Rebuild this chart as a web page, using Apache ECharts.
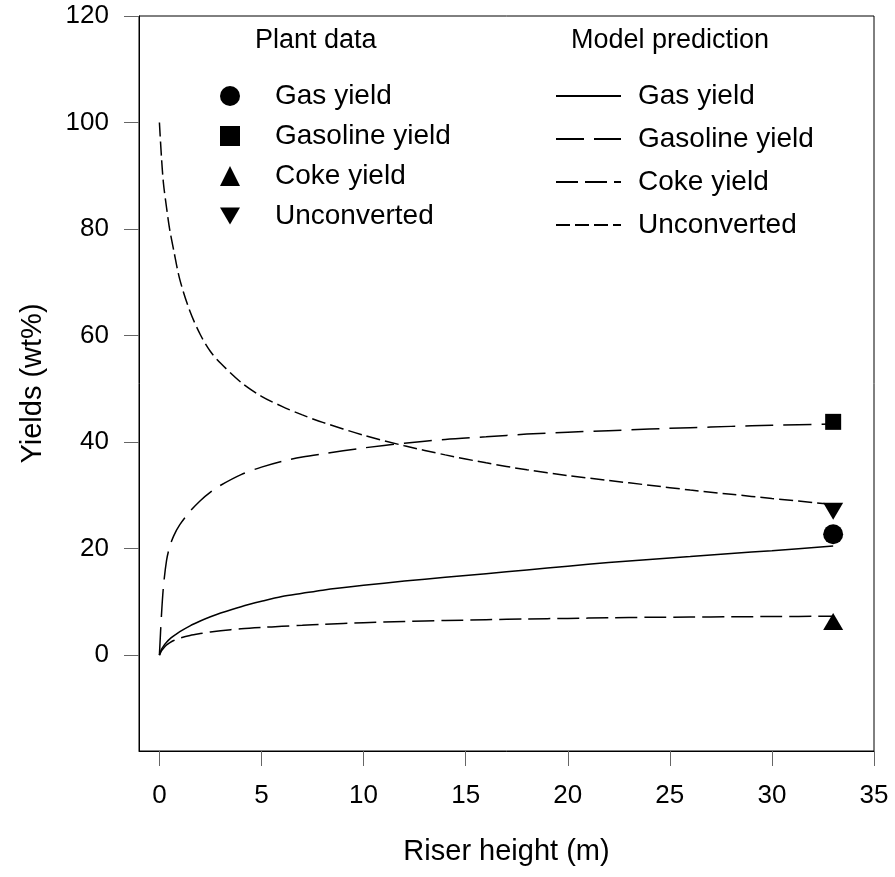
<!DOCTYPE html>
<html>
<head>
<meta charset="utf-8">
<script src="https://cdn.jsdelivr.net/npm/echarts@6/dist/echarts.min.js"></script>
<style>
  html, body { margin: 0; padding: 0; background: #fff; }
  #main { width: 895px; height: 877px; }
</style>
</head>
<body>
<div id="main"></div>
<script>
var heights = [0, 0.1, 0.2, 0.35, 0.5, 0.7, 1, 1.5, 2, 2.5, 3, 4, 5, 6, 7, 8, 10, 12, 14, 16, 18, 20, 22, 24, 26, 28, 30, 33];

// model prediction (wt%)
var modelGas = [0, 1.1, 1.7, 2.4, 3.0, 3.6, 4.4, 5.5, 6.4, 7.2, 7.9, 9.1, 10.1, 11.0, 11.6, 12.2, 13.1, 13.9, 14.6, 15.3, 16.0, 16.7, 17.4, 17.95, 18.5, 19.1, 19.6, 20.5];
var modelGasoline = [0, 7.5, 13, 17.8, 20.3, 22.4, 24.5, 27.0, 29.0, 30.6, 31.9, 33.9, 35.3, 36.4, 37.2, 37.8, 38.9, 39.8, 40.5, 41.0, 41.5, 41.85, 42.15, 42.45, 42.7, 42.95, 43.15, 43.4];
var modelCoke = [0, 0.8, 1.3, 1.9, 2.3, 2.75, 3.2, 3.7, 4.05, 4.35, 4.6, 4.95, 5.2, 5.4, 5.6, 5.8, 6.1, 6.3, 6.5, 6.65, 6.8, 6.9, 7.0, 7.1, 7.15, 7.2, 7.25, 7.3];
var modelUnconverted = [100, 93.5, 88.5, 84, 80, 76, 70.5, 64.5, 60.2, 57.0, 54.8, 51.2, 48.6, 46.7, 45.1, 43.7, 41.3, 39.3, 37.6, 36.1, 34.8, 33.7, 32.8, 31.9, 31.0, 30.2, 29.4, 28.3];

// plant data, measured at the riser outlet
var plantHeight = 33;
var plantGas = 22.7;
var plantGasoline = 43.8;
var plantCoke = 6.3;
var plantUnconverted = 27;

var xTicks = [0, 5, 10, 15, 20, 25, 30, 35];
var yTicks = [0, 20, 40, 60, 80, 100, 120];

var productNames = ['Gas yield', 'Gasoline yield', 'Coke yield', 'Unconverted'];

var FONT = 'Liberation Sans, Arial, sans-serif';

function pairs(xs, ys) {
  return xs.map(function (x, i) { return [x, ys[i]]; });
}

var chartDom = document.getElementById('main');
var myChart = echarts.init(chartDom);

var plantSymbols = ['circle', 'rect', 'triangle', 'path://M0,0 L20,0 L10,17 Z'];
var plantSizes = [20, 16, [20, 17], [20, 17]];
var plantValues = [plantGas, plantGasoline, plantCoke, plantUnconverted];

var modelValues = [modelGas, modelGasoline, modelCoke, modelUnconverted];
var modelDash = ['solid', [28, 10], [22, 7], [14, 5]];

var series = [];
modelValues.forEach(function (vals, i) {
  series.push({
    name: 'model:' + productNames[i],
    type: 'line',
    data: pairs(heights, vals),
    symbol: 'none',
    showSymbol: false,
    smooth: 0.3,
    lineStyle: { color: '#000', width: 1.5, type: modelDash[i] },
    itemStyle: { color: '#000' },
    animation: false
  });
});
plantValues.forEach(function (v, i) {
  series.push({
    name: 'plant:' + productNames[i],
    type: 'scatter',
    data: [[plantHeight, v]],
    symbol: plantSymbols[i],
    symbolSize: plantSizes[i],
    itemStyle: { color: '#000', opacity: 1 },
    animation: false
  });
});

var option = {
  backgroundColor: '#fff',
  textStyle: { fontFamily: FONT },
  title: [
    { text: 'Plant data', left: 255, top: 27, padding: 0,
      textStyle: { fontFamily: FONT, fontSize: 27, fontWeight: 'normal', color: '#000' } },
    { text: 'Model prediction', left: 571, top: 27, padding: 0,
      textStyle: { fontFamily: FONT, fontSize: 27, fontWeight: 'normal', color: '#000' } }
  ],
  legend: [
    {
      data: productNames.map(function (n) { return 'plant:' + n; }),
      orient: 'vertical',
      left: 220,
      top: 82,
      padding: 0,
      itemWidth: 20,
      itemHeight: 20,
      itemGap: 12,
      selectedMode: false,
      itemStyle: { opacity: 1 },
      formatter: function (name) { return name.split(':')[1]; },
      textStyle: { fontFamily: FONT, fontSize: 28, color: '#000', padding: [0, 0, 0, 30] }
    },
    {
      data: productNames.map(function (n) { return 'model:' + n; }),
      orient: 'vertical',
      left: 555,
      top: 82,
      padding: 0,
      itemWidth: 65,
      itemHeight: 20,
      itemGap: 15,
      selectedMode: false,
      itemStyle: { opacity: 0 },
      formatter: function (name) { return name.split(':')[1]; },
      textStyle: { fontFamily: FONT, fontSize: 28, color: '#000', padding: [0, 0, 0, 12] }
    }
  ],
  grid: {
    left: 139,
    right: 21,
    top: 16,
    bottom: 126,
    show: true,
    borderColor: '#000',
    borderWidth: 1,
    containLabel: false,
    outerBoundsMode: 'none'
  },
  xAxis: {
    type: 'value',
    min: -1,
    max: 35,
    name: 'Riser height (m)',
    nameLocation: 'middle',
    nameGap: 86,
    nameTextStyle: { fontFamily: FONT, fontSize: 29, color: '#000' },
    axisLine: { show: true, onZero: false, lineStyle: { color: '#000', width: 1 } },
    axisTick: { show: true, inside: false, length: 15, customValues: xTicks, lineStyle: { color: '#666', width: 1 } },
    axisLabel: { customValues: xTicks, margin: 32, fontFamily: FONT, fontSize: 26, color: '#000' },
    splitLine: { show: false }
  },
  yAxis: {
    type: 'value',
    min: -18,
    max: 120,
    name: 'Yields (wt%)',
    nameLocation: 'middle',
    nameGap: 92,
    nameTextStyle: { fontFamily: FONT, fontSize: 29, color: '#000' },
    axisLine: { show: true, onZero: false, lineStyle: { color: '#000', width: 1 } },
    axisTick: { show: true, inside: false, length: 15, customValues: yTicks, lineStyle: { color: '#666', width: 1 } },
    axisLabel: { customValues: yTicks, margin: 30, fontFamily: FONT, fontSize: 26, color: '#000' },
    splitLine: { show: false }
  },
  series: series
};

option && myChart.setOption(option);
</script>
</body>
</html>
